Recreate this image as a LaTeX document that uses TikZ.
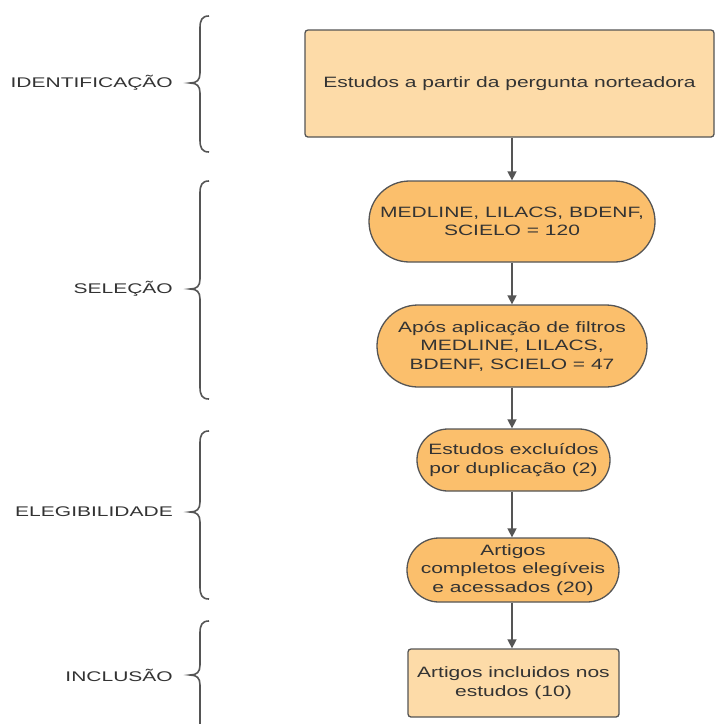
\documentclass[tikz,border=0pt]{standalone}
\usepackage{fontspec}
\setmainfont{Liberation Sans}
\newfontfamily\boxfont{Liberation Sans}[FakeStretch=1.4]
\newfontfamily\phasefont{Liberation Sans}[FakeStretch=1.5]
\usetikzlibrary{shapes.misc,arrows.meta}
\definecolor{peach}{HTML}{FDDBA8}
\definecolor{orng}{HTML}{FBBF6C}
\definecolor{edge}{HTML}{555555}
\definecolor{txt}{HTML}{333333}
\tikzset{
  rectbox/.style={draw=edge, line width=1.3pt, fill=peach, rounded corners=3pt, align=center, text=txt, font=\boxfont\fontsize{15}{18.5}\selectfont, inner sep=0pt},
  stadium/.style={rounded rectangle, draw=edge, line width=1.3pt, fill=orng, align=center, text=txt, font=\boxfont\fontsize{15}{18.5}\selectfont, inner sep=0pt},
  conn/.style={draw=edge, line width=1.5pt, -{Triangle[length=9pt,width=9pt]}},
  phase/.style={anchor=east, text=txt, font=\phasefont\fontsize{14}{16}\selectfont, inner sep=0pt},
  brace/.style={draw=edge, line width=1.6pt}
}
\begin{document}
\begin{tikzpicture}[x=1pt,y=-1pt]
\useasboundingbox (0,0) rectangle (715,724);
\fill[white] (0,0) rectangle (715,724);
\node[rectbox, minimum width=409pt, minimum height=107pt] (top) at (509.5,83.5) {Estudos a partir da pergunta norteadora};
\node[stadium, minimum width=286pt, minimum height=81pt] (s1) at (512,221.5) {MEDLINE, LILACS, BDENF,\\SCIELO = 120};
\node[stadium, minimum width=270pt, minimum height=82pt] (s2) at (512,346) {Após aplicação de filtros\\MEDLINE, LILACS,\\BDENF, SCIELO = 47};
\node[stadium, minimum width=193pt, minimum height=62pt] (s3) at (513.5,460) {Estudos excluídos\\por duplicação (2)};
\node[stadium, minimum width=212pt, minimum height=64pt] (s4) at (513,570) {Artigos\\completos elegíveis\\e acessados (20)};
\node[rectbox, minimum width=211pt, minimum height=68pt] (bot) at (513.5,683) {Artigos incluidos nos\\estudos (10)};
\draw[conn] (top.south -| s1.north) -- (s1.north);
\draw[conn] (s1.south) -- (s2.north);
\draw[conn] (s2.south) -- (s3.north -| s2.south);
\draw[conn] (s3.south -| s2.south) -- (s4.north -| s2.south);
\draw[conn] (s4.south -| s2.south) -- (bot.north -| s2.south);
\node[phase] (p1) at (173,83) {IDENTIFICAÇÃO};
\node[phase] (p2) at (173,289) {SELEÇÃO};
\node[phase] (p3) at (173,512) {ELEGIBILIDADE};
\node[phase] (p4) at (173,675) {INCLUSÃO};
\draw[brace] (209,16) .. controls (202,16) and (200,20) .. (200,28) -- (200,73) .. controls (200,80) and (197,83) .. (190,83) .. controls (197,83) and (200,86) .. (200,93) -- (200,140) .. controls (200,148) and (202,152) .. (209,152);
\draw[brace] (209,181) .. controls (202,181) and (200,185) .. (200,193) -- (200,279) .. controls (200,286) and (197,289) .. (190,289) .. controls (197,289) and (200,292) .. (200,299) -- (200,387) .. controls (200,395) and (202,399) .. (209,399);
\draw[brace] (209,431) .. controls (202,431) and (200,435) .. (200,443) -- (200,502) .. controls (200,509) and (197,512) .. (190,512) .. controls (197,512) and (200,515) .. (200,522) -- (200,587) .. controls (200,595) and (202,599) .. (209,599);
\draw[brace] (209,621) .. controls (202,621) and (200,625) .. (200,633) -- (200,665) .. controls (200,672) and (197,675) .. (190,675) .. controls (197,675) and (200,678) .. (200,685) -- (200,724);
\end{tikzpicture}
\end{document}
